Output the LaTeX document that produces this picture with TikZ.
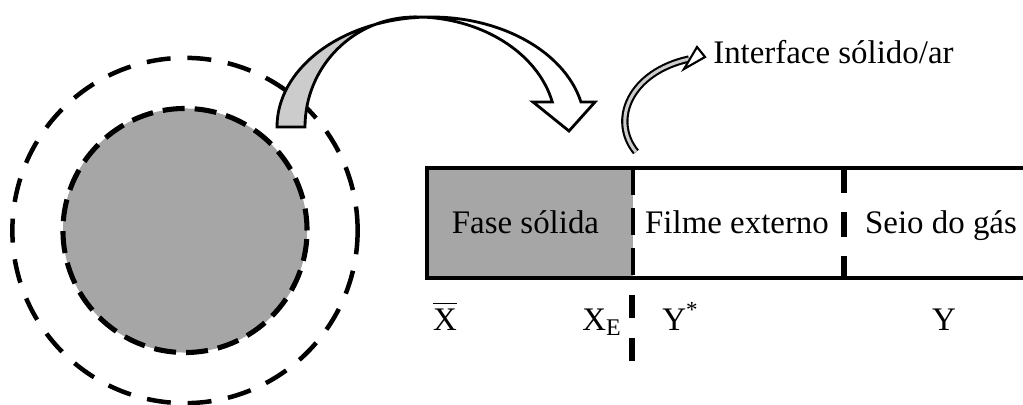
\documentclass[tikz,border=0pt]{standalone}
\usepackage{amsmath}
\usepackage{fontspec}
\setmainfont{Liberation Serif}
\usepackage{tikz}
\definecolor{solidgray}{HTML}{A6A6A6}
\definecolor{arrowgray}{HTML}{CCCCCC}

\begin{document}
\begin{tikzpicture}[
        x=0.025cm, y=-0.025cm,
        font=\fontsize{23.4}{28}\selectfont,
        lbl/.style={inner sep=0pt, anchor=base},
        particle/.style={
            circle,
            fill=solidgray,
            draw=black,
            line width=3.6pt,
            dash pattern=on 0.55cm off 0.25cm,
            minimum size=6.1cm,
            inner sep=0pt
        },
        filmring/.style={
            circle,
            draw=black,
            line width=3.2pt,
            dash pattern=on 0.6cm off 0.42cm,
            minimum size=8.63cm,
            inner sep=0pt
        },
        wall/.style={line width=2.85pt, line join=miter},
        blockarrow/.style={draw=black, line width=2pt, line join=miter}
    ]
        \useasboundingbox (0,0) rectangle (1023,405);

        \node[filmring] (camada) at (185,230.5) {};
        \node[particle] (nucleo) at (185,230.5) {};

        % seta grande
        \draw[blockarrow, fill=arrowgray] (277,127)
            arc[start angle=180, end angle=264, x radius=154, y radius=110] -- (415,17)
            arc[start angle=270, end angle=180, x radius=110, y radius=110] -- cycle;
        \draw[blockarrow, fill=white] (414.9,17.6)
            arc[start angle=264, end angle=346.9, x radius=154, y radius=110]
            -- (595,102) -- (569,131) -- (533,102) -- (552.3,102)
            arc[start angle=346.9, end angle=270, x radius=141, y radius=110] -- cycle;

        % fases
        \fill[solidgray] (427,168) rectangle (633,278);
        \draw[wall] (1023,168) -- (427,168) -- (427,278) -- (1023,278);
        \draw[line width=2.5pt, dash pattern=on 0.675cm off 0.325cm] (633,168) -- (633,278);
        \draw[line width=3.6pt, dash pattern=on 0.625cm off 0.475cm] (844,168) -- (844,278);
        \draw[line width=4.3pt, dash pattern=on 0.575cm off 0.5cm] (632,295) -- (632,362);

        \node[lbl] (fase) at (525.5,234) {Fase sólida};
        \node[lbl] (filme) at (737,234) {Filme externo};
        \node[lbl] (seio) at (941,234) {Seio do gás};
        \node[lbl, anchor=base west] (interface) at (713,64) {Interface sólido/ar};

        \node[lbl] (xbar) at (445,330) {$\overline{\text{X}}$};
        \node[lbl, anchor=base west] (xe) at (582,330)
            {X\raisebox{-0.14cm}{\fontsize{17}{17}\selectfont E}};
        \node[lbl, anchor=base west] (ystar) at (662,330) {Y\textsuperscript{*}};
        \node[lbl] (ygas) at (944,330) {Y};

        % seta da interface
        \coordinate (cauda) at (636,152);
        \coordinate (ponta) at (705,57);
        \draw[double=arrowgray, double distance=2.2pt, line width=1.5pt]
            (cauda) .. controls (610,120) and (630,72) .. (689,59);
        \draw[blockarrow, line width=1.5pt, fill=white] (684,69) -- (ponta) -- (697,47) -- cycle;

    \end{tikzpicture}
\end{document}
